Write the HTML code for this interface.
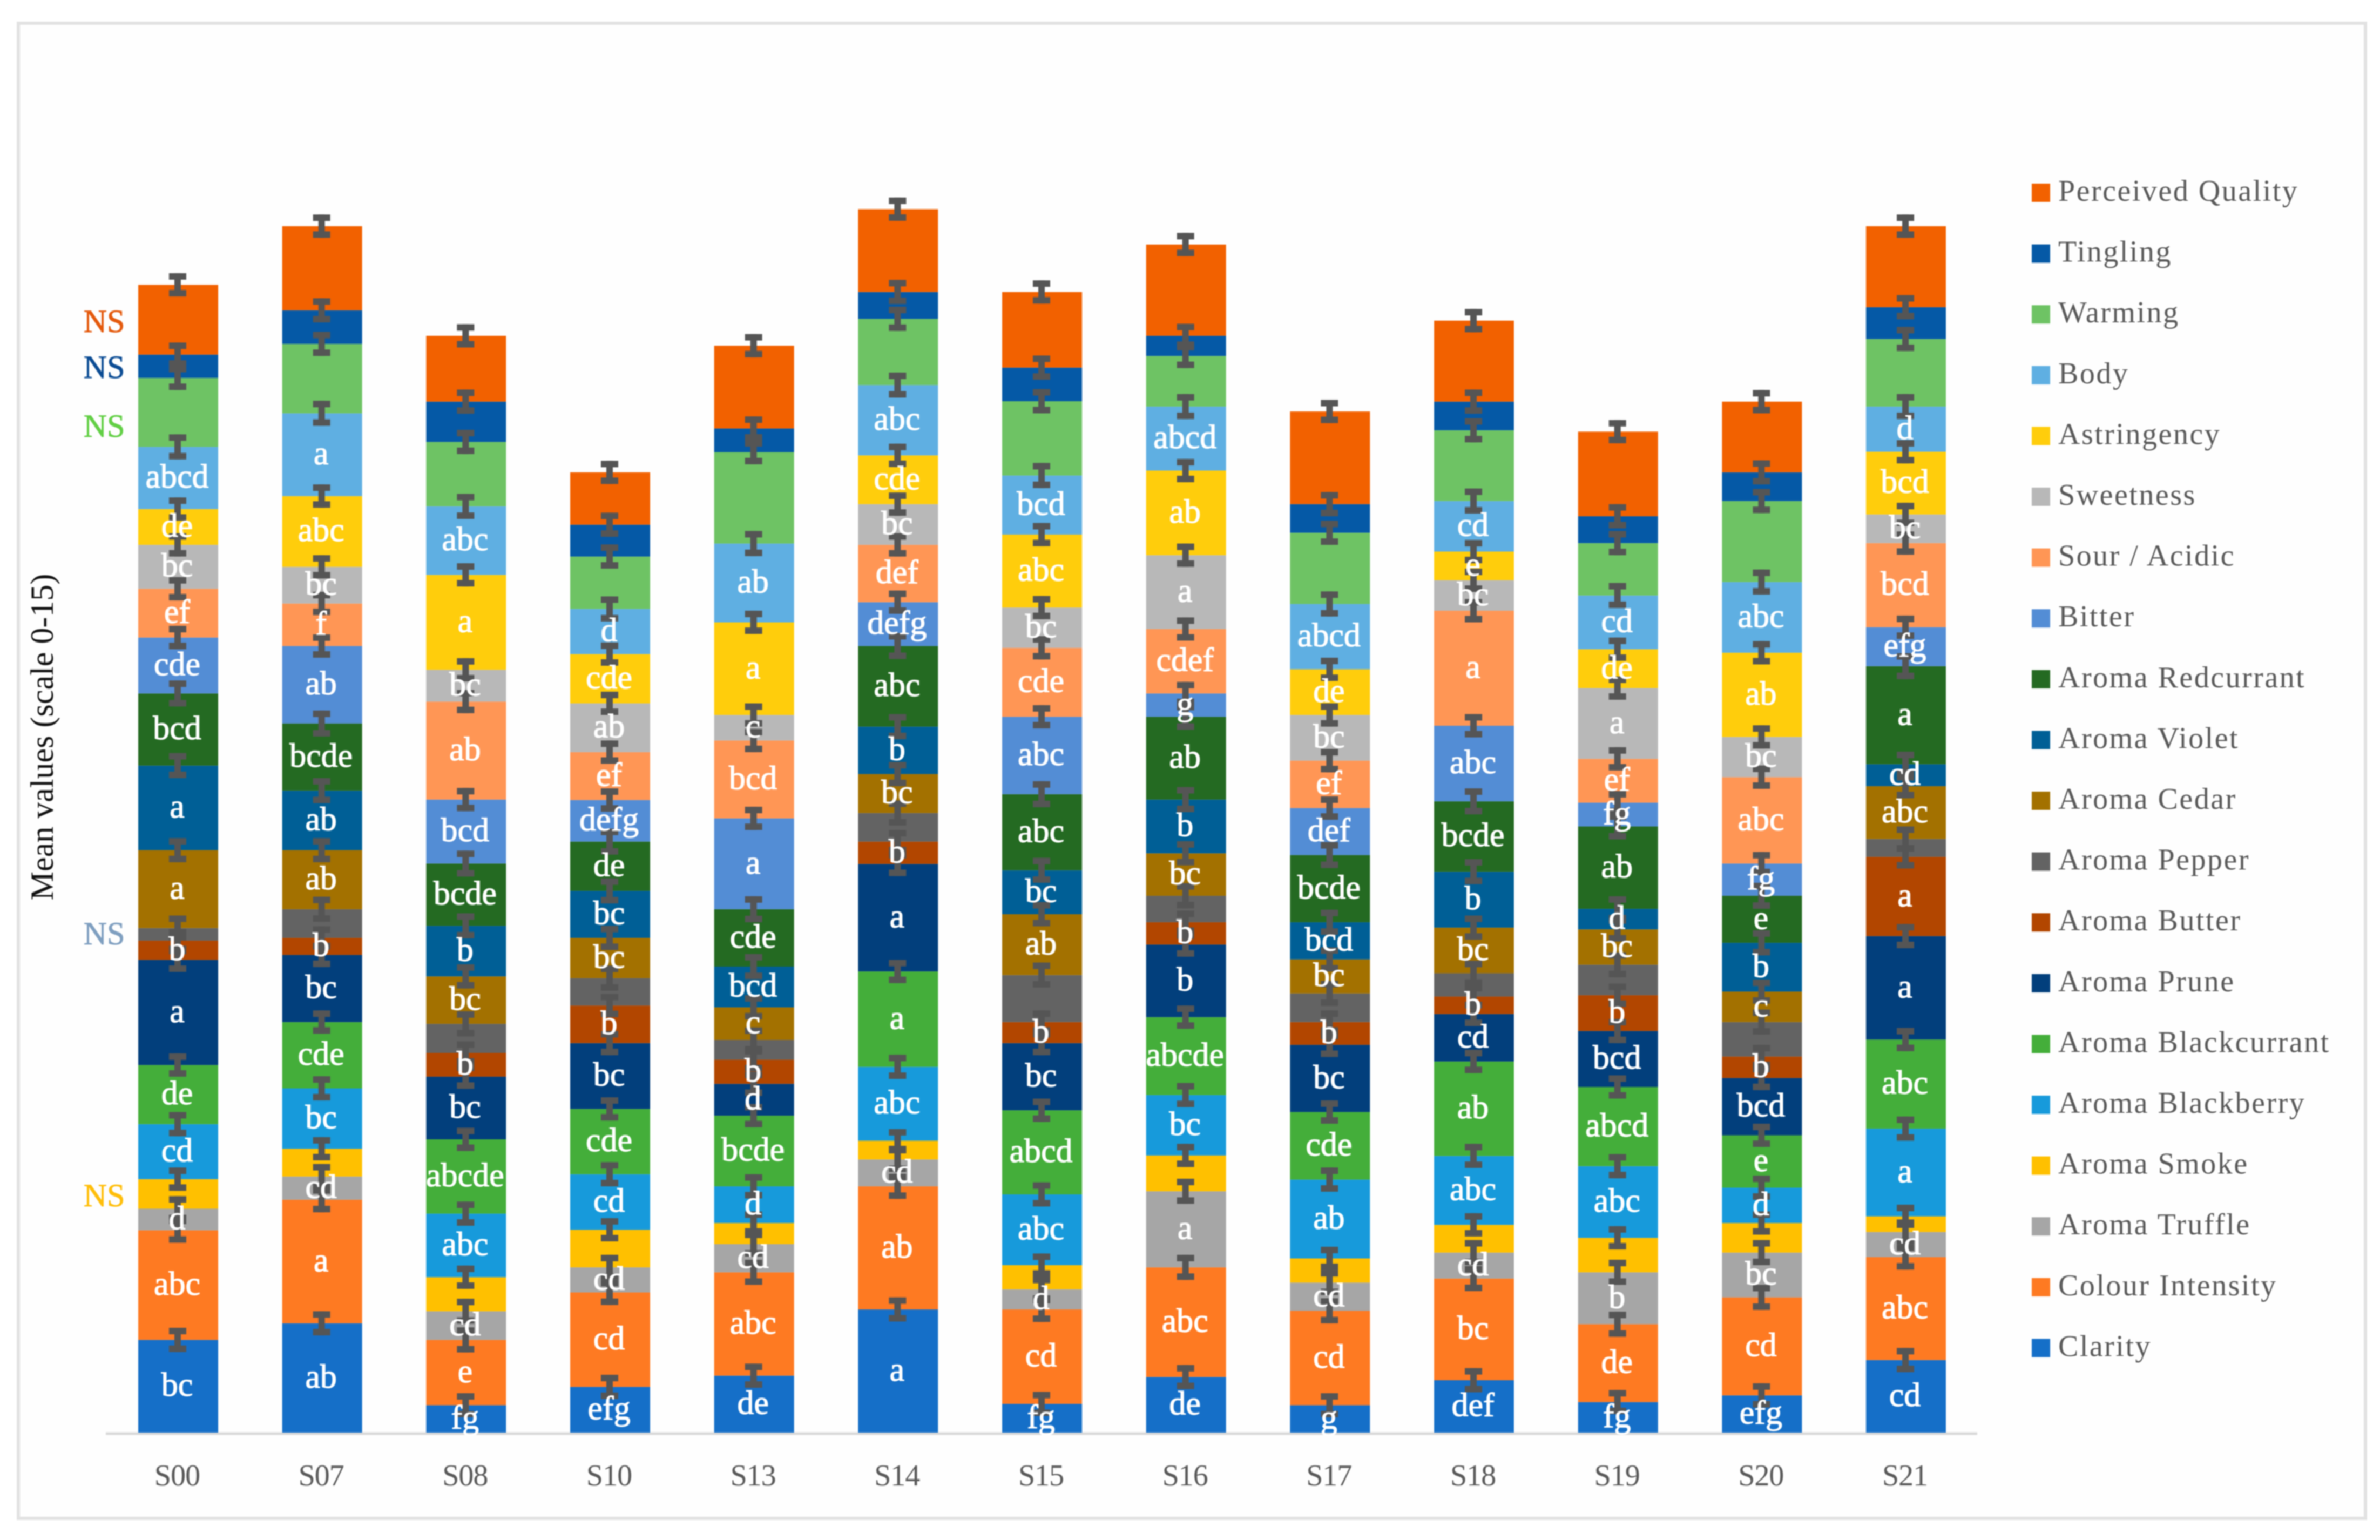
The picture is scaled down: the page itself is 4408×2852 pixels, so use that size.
<!DOCTYPE html>
<html lang="en">
<head>
<meta charset="utf-8">
<title>Mean values stacked bar chart</title>
<style>
html,body{margin:0;padding:0;background:#fff;width:4408px;height:2852px;overflow:hidden}
svg{display:block;filter:blur(1px)}
text{font-family:"Liberation Serif",serif}
</style>
</head>
<body>
<svg id="chart" xmlns="http://www.w3.org/2000/svg" width="4408" height="2852" viewBox="0 0 4408 2852">
  <rect x="0" y="0" width="4408" height="2852" fill="#ffffff"/>
  <rect x="34" y="43" width="4347" height="2769" fill="#fefefe" stroke="#e2e2e2" stroke-width="6"/>
  <text transform="translate(98,1365) rotate(-90)" text-anchor="middle" font-size="60" fill="#111111">Mean values (scale 0-15)</text>
  <text x="193" y="615" text-anchor="middle" font-size="60" stroke="#E4590C" stroke-width="0.8" fill="#E4590C">NS</text>
  <text x="193" y="700" text-anchor="middle" font-size="60" stroke="#0B4C94" stroke-width="0.8" fill="#0B4C94">NS</text>
  <text x="193" y="809" text-anchor="middle" font-size="60" stroke="#62CF45" stroke-width="0.8" fill="#62CF45">NS</text>
  <text x="193" y="1749" text-anchor="middle" font-size="60" stroke="#7F9FC0" stroke-width="0.8" fill="#7F9FC0">NS</text>
  <text x="193" y="2234" text-anchor="middle" font-size="60" stroke="#FFBE0A" stroke-width="0.8" fill="#FFBE0A">NS</text>
  <line x1="196" x2="3662" y1="2655" y2="2655" stroke="#d9d9d9" stroke-width="5"/>
  <g id="bars"></g>
  <g id="errors"></g>
  <g id="letters"></g>
  <g id="ticks"></g>
  <g id="legend"></g>
</svg>
<script>
const categories = ["S00","S07","S08","S10","S13","S14","S15","S16","S17","S18","S19","S20","S21"];
const seriesNames = ["Clarity","Colour Intensity","Aroma Truffle","Aroma Smoke","Aroma Blackberry","Aroma Blackcurrant","Aroma Prune","Aroma Butter","Aroma Pepper","Aroma Cedar","Aroma Violet","Aroma Redcurrant","Bitter","Sour / Acidic","Sweetness","Astringency","Body","Warming","Tingling","Perceived Quality"];

const clarity = [2.07,2.44,0.61,1.02,1.27,2.75,0.64,1.24,0.61,1.17,0.68,0.83,1.62];
const colourIntensity = [2.45,2.76,1.46,2.11,2.31,2.75,2.11,2.45,2.11,2.27,1.74,2.19,2.30];
const aromaTruffle = [0.48,0.52,0.64,0.56,0.63,0.60,0.45,1.70,0.63,0.58,1.16,1.00,0.56];
const aromaSmoke = [0.66,0.62,0.76,0.84,0.47,0.42,0.54,0.80,0.54,0.62,0.77,0.66,0.35];
const aromaBlackberry = [1.23,1.35,1.42,1.24,0.82,1.65,1.58,1.35,1.76,1.54,1.60,0.79,1.96];
const aromaBlackcurrant = [1.32,1.48,1.66,1.46,1.58,2.13,1.88,1.74,1.51,2.11,1.77,1.17,1.99];
const aromaPrune = [2.35,1.50,1.40,1.47,0.71,2.40,1.50,1.62,1.50,1.06,1.25,1.28,2.31];
const aromaButter = [0.43,0.38,0.53,0.84,0.54,0.50,0.47,0.50,0.51,0.39,0.80,0.48,1.77];
const aromaPepper = [0.28,0.64,0.65,0.61,0.44,0.64,1.05,0.59,0.64,0.52,0.68,0.77,0.40];
const aromaCedar = [1.74,1.32,1.06,0.90,0.73,0.87,1.36,0.95,0.76,1.02,0.79,0.68,1.18];
const aromaViolet = [1.89,1.33,1.13,1.05,0.91,1.06,0.98,1.20,0.83,1.25,0.46,1.09,0.49];
const aromaRedcurrant = [1.61,1.50,1.39,1.10,1.28,1.80,1.70,1.85,1.50,1.57,1.84,1.05,2.19];
const bitter = [1.25,1.73,1.43,0.93,2.03,0.98,1.73,0.52,1.05,1.69,0.53,0.72,0.87];
const sourAcidic = [1.09,0.95,2.19,1.07,1.74,1.28,1.54,1.44,1.06,2.57,0.98,1.93,1.88];
const sweetness = [0.98,0.82,0.71,1.09,0.57,0.91,0.90,1.65,1.02,0.68,1.58,0.90,0.64];
const astringency = [0.80,1.58,2.12,1.10,2.07,1.09,1.63,1.89,1.02,0.64,0.87,1.88,1.40];
const body = [1.39,1.85,1.53,1.01,1.76,1.57,1.32,1.43,1.46,1.13,1.20,1.58,1.01];
const warming = [1.54,1.55,1.44,1.17,2.04,1.48,1.66,1.13,1.59,1.58,1.17,1.81,1.51];
const tingling = [0.52,0.75,0.90,0.71,0.53,0.60,0.75,0.45,0.64,0.64,0.60,0.64,0.71];
const perceivedQuality = [1.56,1.88,1.47,1.17,1.85,1.85,1.69,2.04,2.07,1.81,1.89,1.58,1.81];

const seriesValues = [clarity,colourIntensity,aromaTruffle,aromaSmoke,aromaBlackberry,aromaBlackcurrant,aromaPrune,aromaButter,aromaPepper,aromaCedar,aromaViolet,aromaRedcurrant,bitter,sourAcidic,sweetness,astringency,body,warming,tingling,perceivedQuality];

const seriesErrors = [0.27,0.28,0.28,0.26,0.27,0.26,0.27,0.26,0.28,0.27,0.28,0.29,0.26,0.26,0.26,0.26,0.28,0.27,0.27,0.26];

const lettersClarity = ["bc","ab","fg","efg","de","a","fg","de","g","def","fg","efg","cd"];
const lettersColour = ["abc","a","e","cd","abc","ab","cd","abc","cd","bc","de","cd","abc"];
const lettersTruffle = ["d","cd","cd","cd","cd","cd","d","a","cd","cd","b","bc","cd"];
const lettersBlackberry = ["cd","bc","abc","cd","d","abc","abc","bc","ab","abc","abc","d","a"];
const lettersBlackcurrant = ["de","cde","abcde","cde","bcde","a","abcd","abcde","cde","ab","abcd","e","abc"];
const lettersPrune = ["a","bc","bc","bc","d","a","bc","b","bc","cd","bcd","bcd","a"];
const lettersButter = ["b","b","b","b","b","b","b","b","b","b","b","b","a"];
const lettersCedar = ["a","ab","bc","bc","c","bc","ab","bc","bc","bc","bc","c","abc"];
const lettersViolet = ["a","ab","b","bc","bcd","b","bc","b","bcd","b","d","b","cd"];
const lettersRedcurrant = ["bcd","bcde","bcde","de","cde","abc","abc","ab","bcde","bcde","ab","e","a"];
const lettersBitter = ["cde","ab","bcd","defg","a","defg","abc","g","def","abc","fg","fg","efg"];
const lettersSour = ["ef","f","ab","ef","bcd","def","cde","cdef","ef","a","ef","abc","bcd"];
const lettersSweetness = ["bc","bc","bc","ab","c","bc","bc","a","bc","bc","a","bc","bc"];
const lettersAstringency = ["de","abc","a","cde","a","cde","abc","ab","de","e","de","ab","bcd"];
const lettersBody = ["abcd","a","abc","d","ab","abc","bcd","abcd","abcd","cd","cd","abc","d"];

const seriesLetters = [lettersClarity,lettersColour,lettersTruffle,null,lettersBlackberry,lettersBlackcurrant,lettersPrune,lettersButter,null,lettersCedar,lettersViolet,lettersRedcurrant,lettersBitter,lettersSour,lettersSweetness,lettersAstringency,lettersBody,null,null,null];

const seriesColors = ["#156FC8","#FE7A22","#A6A6A6","#FFC000","#179ADB","#44AE3A","#023F7C","#B24600","#636363","#A37100","#005F96","#246A22","#538DD5","#FF9655","#B8B8B8","#FFCD0C","#5FAFE2","#6EC364","#0559A6","#F26100"];

const NS = "http://www.w3.org/2000/svg";
const baselineY = 2653;
const unitPx = 82.9;
const firstCenter = 330;
const bandStep = 266.67;
const barWidth = 148;

function xCenter(i){ return firstCenter + bandStep * i; }
function yScale(v){ return baselineY - v * unitPx; }
function slug(s){ return s.toLowerCase().replace(/[^a-z0-9]+/g,'-'); }
function mk(tag, attrs, parent){
  const el = document.createElementNS(NS, tag);
  for (const k in attrs) el.setAttribute(k, attrs[k]);
  parent.appendChild(el);
  return el;
}

const barsG = document.getElementById('bars');
const errG = document.getElementById('errors');
const lettersG = document.getElementById('letters');
const ticksG = document.getElementById('ticks');
const legendG = document.getElementById('legend');

categories.forEach(function(cat, i){
  let cum = 0;
  const cx = xCenter(i);
  seriesValues.forEach(function(vals, s){
    const v = vals[i];
    const yTop = yScale(cum + v);
    const yBot = yScale(cum);
    const bar = mk('rect', {x: cx - barWidth / 2, y: yTop, width: barWidth, height: yBot - yTop, fill: seriesColors[s]}, barsG);
    
    

    const e = seriesErrors[s];
    const ex = cx - 1;
    const errTop = yScale(cum + v + e);
    const errBot = yScale(cum + v - e);
    const eg = mk('g', {fill: '#555555'}, errG);
    
    
    mk('rect', {x: ex - 6, y: errTop, width: 12, height: errBot - errTop}, eg);
    mk('rect', {x: ex - 16, y: errTop, width: 32, height: 12}, eg);
    mk('rect', {x: ex - 16, y: errBot - 12, width: 32, height: 12}, eg);

    const lab = seriesLetters[s] ? seriesLetters[s][i] : null;
    if (lab) {
      const t = mk('text', {x: cx - 2, y: (yTop + yBot) / 2 + 18, 'text-anchor': 'middle', 'font-size': 62, fill: '#ffffff', stroke: '#ffffff', 'stroke-width': 1.2}, lettersG);
      
      
      t.textContent = lab;
    }
    cum += v;
  });
  const tick = mk('text', {x: cx - 2, y: 2751, 'text-anchor': 'middle', 'font-size': 56, 'letter-spacing': -1, fill: '#595959'}, ticksG);
  
  
  tick.textContent = cat;
});

const legendOrder = seriesNames.map(function(_, i){ return seriesNames.length - 1 - i; });
legendOrder.forEach(function(s, row){
  const cy = 357 + row * 112.6;
  const g = mk('g', {}, legendG);
  
  
  mk('rect', {x: 3763, y: cy - 17, width: 34, height: 34, fill: seriesColors[s]}, g);
  const t = mk('text', {x: 3812, y: cy + 15, 'font-size': 56, 'letter-spacing': 2.5, fill: '#595959'}, g);
  t.textContent = seriesNames[s];
});
</script>
</body>
</html>
